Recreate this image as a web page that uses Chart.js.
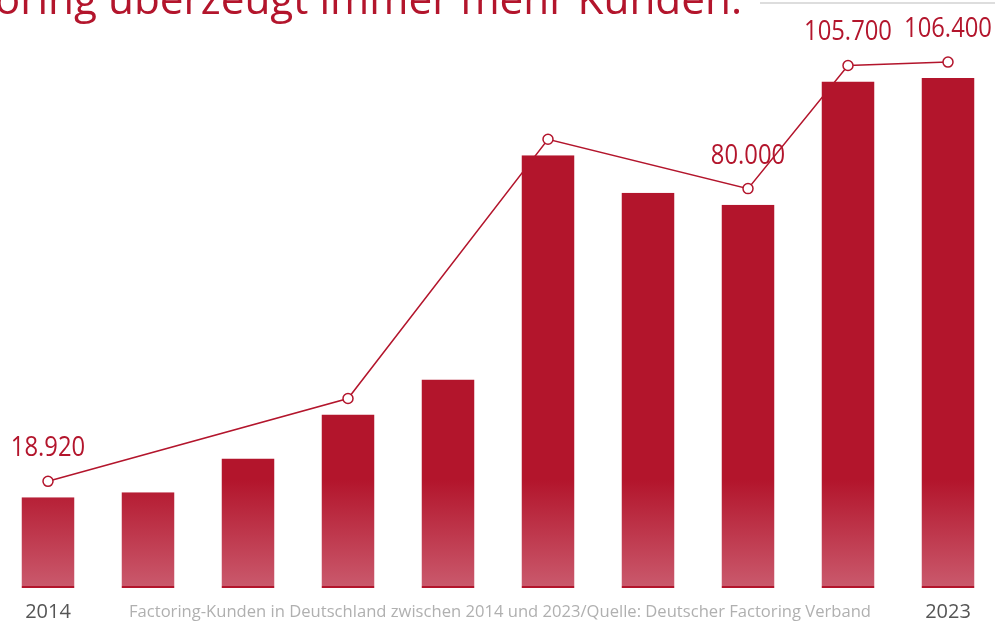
<!DOCTYPE html>
<html>
<head>
<meta charset="utf-8">
<script src="https://cdn.jsdelivr.net/npm/chart.js"></script>
<style>
  html, body { margin: 0; padding: 0; background: #fff; overflow: hidden; }
  #wrap { position: absolute; left: -2px; top: 0; width: 1000px; height: 624px; }
</style>
</head>
<body>
<div id="wrap"><canvas id="kundenChart" width="1000" height="624"></canvas></div>
<script>
// Factoring-Kunden je Jahr
const years = ['2014', '2015', '2016', '2017', '2018', '2019', '2020', '2021', '2022', '2023'];
const customers = [18920, 20000, 27000, 36200, 43500, 90300, 82500, 80000, 105700, 106400];
const trendPoints = [18920, null, null, 36200, null, 90300, null, 80000, 105700, 106400];
const valueLabels = ['18.920', '', '', '', '', '', '', '80.000', '105.700', '106.400'];
const shownYears = ['2014', '2023'];

const titleText = 'Factoring überzeugt immer mehr Kunden.';
const captionText = 'Factoring-Kunden in Deutschland zwischen 2014 und 2023/Quelle: Deutscher Factoring Verband';

const red = '#b3152c';

const decorations = {
    id: 'decorations',
    beforeDraw(chart) {
        const ctx = chart.ctx;
        ctx.save();
        // title, cut off at the top left
        ctx.fillStyle = red;
        ctx.font = '42.3px "Open Sans"';
        ctx.textAlign = 'right';
        ctx.textBaseline = 'alphabetic';
        ctx.fillText(titleText, 744, 14);
        // thin grey rule top right
        ctx.fillStyle = '#dddddd';
        ctx.fillRect(762, 2, 240, 2);
        ctx.restore();
    },
    afterDraw(chart) {
        const ctx = chart.ctx;
        ctx.save();
        ctx.fillStyle = '#b0b0b0';
        ctx.font = '16.6px "Open Sans"';
        ctx.textAlign = 'center';
        ctx.textBaseline = 'middle';
        ctx.fillText(captionText, 502, 612);

        // value labels, a bit condensed like the original type
        const meta = chart.getDatasetMeta(1);
        ctx.fillStyle = red;
        ctx.font = '28px "Open Sans"';
        meta.data.forEach(function(pt, i) {
            if (!valueLabels[i]) return;
            ctx.save();
            ctx.translate(pt.x, pt.y - 33);
            ctx.scale(0.85, 1);
            ctx.fillText(valueLabels[i], 0, 0);
            ctx.restore();
        });
        ctx.restore();
    }
};

const ctx = document.getElementById('kundenChart').getContext('2d');
const barFill = ctx.createLinearGradient(0, 480, 0, 588);
barFill.addColorStop(0, red);
barFill.addColorStop(1, '#ca5a6d');

new Chart(ctx, {
    type: 'bar',
    data: {
        labels: years,
        datasets: [{
            type: 'bar',
            data: customers,
            backgroundColor: barFill,
            borderColor: red,
            borderWidth: { top: 0, left: 0, right: 0, bottom: 2 },
            borderSkipped: false,
            barPercentage: 0.53,
            categoryPercentage: 1,
            yAxisID: 'y',
            order: 2
        }, {
            type: 'line',
            data: trendPoints,
            spanGaps: true,
            borderColor: red,
            borderWidth: 1.5,
            pointRadius: 5,
            pointHoverRadius: 5,
            pointBackgroundColor: '#fff',
            pointBorderColor: red,
            pointBorderWidth: 1.5,
            tension: 0,
            yAxisID: 'y2',
            clip: false,
            order: 1
        }]
    },
    options: {
        responsive: false,
        animation: false,
        layout: { padding: 0, autoPadding: false },
        plugins: {
            legend: { display: false },
            tooltip: { enabled: false }
        },
        scales: {
            x: {
                grid: { display: false, drawTicks: false, tickLength: 0 },
                border: { display: false },
                afterFit: function(scale) { scale.height = 36; },
                ticks: {
                    color: '#555',
                    font: { family: 'Open Sans', size: 20 },
                    padding: 12,
                    maxRotation: 0,
                    autoSkip: false,
                    callback: function(v, i) {
                        return shownYears.includes(years[i]) ? years[i] : '';
                    }
                }
            },
            y: { display: false, min: 0, max: 122700 },
            y2: { display: false, min: -3340, max: 119360 }
        }
    },
    plugins: [decorations]
});
</script>
</body>
</html>
